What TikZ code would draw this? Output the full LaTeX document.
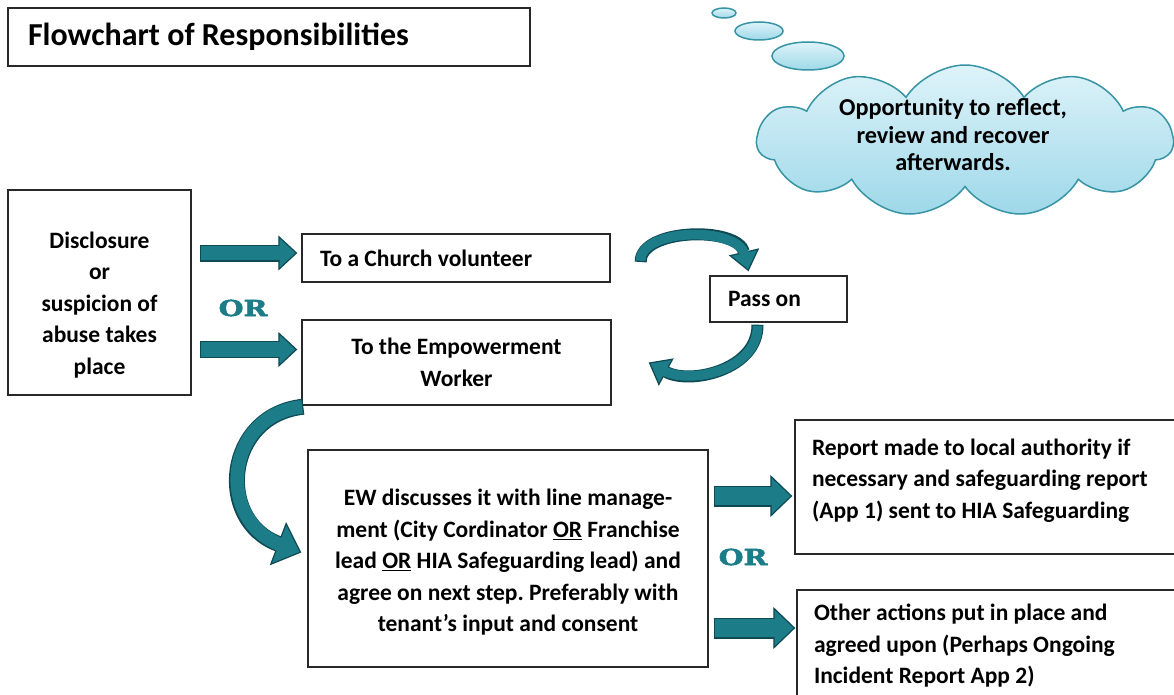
\documentclass[tikz,border=0pt]{standalone}
\usepackage{fontspec}
\setmainfont{Carlito}
\newfontfamily\orfont{DejaVu Serif Bold}[FakeStretch=1.3, FakeBold=2.5]
\usetikzlibrary{shapes.symbols}
\usetikzlibrary{arrows.meta,calc}
\usetikzlibrary{positioning}
\usepackage{xcolor}
\frenchspacing

\definecolor{arrowteal}{RGB}{28,124,136}
\definecolor{arrowedge}{RGB}{14,74,84}
\definecolor{cloudedge}{RGB}{55,148,164}
\definecolor{cloudtop}{RGB}{222,243,249}
\definecolor{cloudbot}{RGB}{158,216,233}
\definecolor{boxline}{RGB}{40,40,40}

\tikzset{
  box/.style={draw=boxline, line width=1.4pt, inner sep=0pt, align=center,
    font=\fontsize{23.5}{31.5}\selectfont\bfseries},
  leftbox/.style={box, align=flush left},
  orlabel/.style={text=arrowteal, inner sep=0pt, font=\orfont\fontsize{22}{22}\selectfont},
  bubble/.style={draw=cloudedge, line width=1.5pt, top color=cloudtop, bottom color=cloudbot}
}

% fat teal arrow: shaft width, head length, head width, path
\newcommand\fatarrow[4]{%
  \draw[arrowedge, line width=#1, -{Triangle[length=#2, width=#3, fill=arrowteal, line width=1.2pt]}] #4;
  \draw[arrowteal, line width=#1-2.4pt, shorten <=1.2pt, shorten >=#2-3pt] #4;}

\begin{document}
\begin{tikzpicture}[x=1pt, y=-1pt]
	\useasboundingbox (0,0) rectangle (1174,695);

	\node[leftbox, text width=482pt, minimum width=522pt, minimum height=58pt,
	      font=\fontsize{32}{38}\selectfont\bfseries] (title) at (269,37) {Flowchart of Responsibilities};

	% thought cloud
	\draw[bubble] (724,13) ellipse [x radius=12, y radius=5];
	\draw[bubble] (759,31) ellipse [x radius=24, y radius=9];
	\draw[bubble] (808,56) ellipse [x radius=36, y radius=14];
	\node[cloud, cloud puffs=11, cloud puff arc=115, aspect=2.68, draw=cloudedge, line width=1.5pt,
	      top color=cloudtop, bottom color=cloudbot, minimum width=416pt, minimum height=152pt,
	      inner sep=0pt] (cloud) at (965,141) {};
	\node[align=center, font=\fontsize{24.3}{27.5}\selectfont\bfseries] (reflect) at ($(cloud.center)+(-12,-6)$)
	      {Opportunity to reflect,\\review and recover\\afterwards.};

	% boxes
	\node[box, minimum width=183pt, minimum height=205pt] (disc) at (99.5,292.5)
	      {\rule{0pt}{41pt}Disclosure\\or\\suspicion of\\abuse takes\\place};
	\node[leftbox, text width=272pt, minimum width=308pt, minimum height=48pt] (church) at (456,258)
	      {To a Church volunteer};
	\node[box, minimum width=309pt, minimum height=85pt] (emp) at (456.5,362.5)
	      {To the Empowerment\\Worker};
	\node[leftbox, text width=101pt, minimum width=137pt, minimum height=46pt] (pass) at (778.5,299)
	      {Pass on};
	\node[box, minimum width=400pt, minimum height=217pt] (ew) at (508,558.5)
	      {\rule{0pt}{24pt}EW discusses it with line manage-\\ment (City Cordinator \underline{OR} Franchise\\lead \underline{OR} HIA Safeguarding lead) and\\agree on next step. Preferably with\\tenant’s input and consent};
	\node[leftbox, text width=366pt, minimum width=400pt, minimum height=134pt] (report) at (995,487)
	      {Report made to local authority if\\necessary and safeguarding report\\(App 1) sent to HIA Safeguarding\rule[-17pt]{0pt}{17pt}};
	\node[leftbox, text width=366pt, minimum width=400pt, minimum height=112pt] (other) at (997,646)
	      {Other actions put in place and\\agreed upon (Perhaps Ongoing\\Incident Report App 2)};

	\node[orlabel] (or1) at (243,308) {OR};
	\node[orlabel] (or2) at (743,557) {OR};

	% arrows
	\fatarrow{17pt}{19pt}{35pt}{($(disc.east |- church.west)+(8,-5)$) -- ($(church.west)+(-4,-5)$)}
	\fatarrow{17pt}{19pt}{35pt}{($(disc.east |- emp.west)+(8,-13)$) -- ($(emp.west)+(-4,-13)$)}
	\fatarrow{21pt}{22pt}{42pt}{($(ew.east |- report.west)+(5,9)$) -- ($(report.west)+(-2,9)$)}
	\fatarrow{21pt}{22pt}{42pt}{($(ew.east |- other.west)+(5,-18)$) -- ($(other.west)+(-1,-18)$)}
	\fatarrow{12pt}{20pt}{31pt}{($(church.east)+(30,4)$) .. controls (640,228) and (738,226) .. ($(pass.north)+(-30,-4)$)}
	\fatarrow{12pt}{20pt}{31pt}{($(pass.south)+(-21,2)$) .. controls (758,370) and (690,385) .. ($(emp.east)+(37,0)$)}
	\fatarrow{16pt}{25pt}{46pt}{($(emp.south west)+(2,1)$) .. controls (225,415) and (215,520) .. ($(ew.west)+(-6,-6)$)}
\end{tikzpicture}
\end{document}
